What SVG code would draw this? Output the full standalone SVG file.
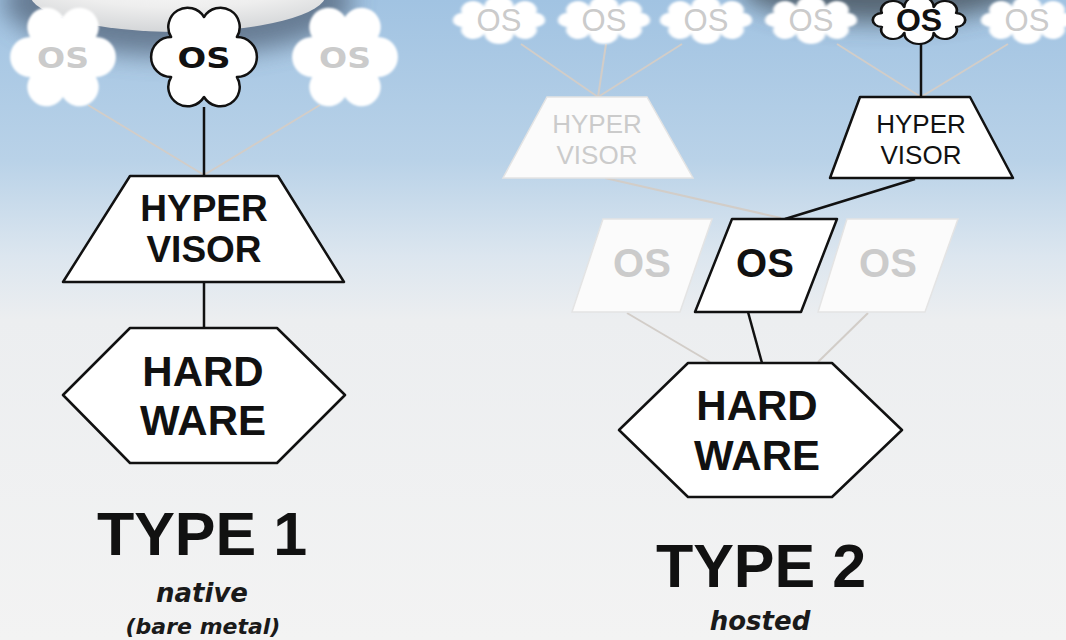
<svg xmlns="http://www.w3.org/2000/svg" width="1066" height="640" viewBox="0 0 1066 640">
<defs>
  <linearGradient id="bg" x1="0" y1="0" x2="0" y2="1">
    <stop offset="0" stop-color="#a1c3e2"/>
    <stop offset="0.25" stop-color="#b9d2e8"/>
    <stop offset="0.4" stop-color="#dce6ef"/>
    <stop offset="0.5" stop-color="#eceef0"/>
    <stop offset="1" stop-color="#f3f3f3"/>
  </linearGradient>
  <radialGradient id="sphere" cx="0.5" cy="0.2" r="0.8">
    <stop offset="0" stop-color="#ffffff"/>
    <stop offset="0.6" stop-color="#eeeeee"/>
    <stop offset="1" stop-color="#d4d6d8"/>
  </radialGradient>
  <filter id="shadow" x="-50%" y="-50%" width="200%" height="200%">
    <feGaussianBlur stdDeviation="12"/>
  </filter>
  <filter id="soft" x="-20%" y="-20%" width="140%" height="140%">
    <feGaussianBlur stdDeviation="1.2"/>
  </filter>
  <path id="cloud6" d="M -32.9,-20 A 1 1 0 0 1 0,-40 A 1 1 0 0 1 32.9,-20 A 1 1 0 0 1 32.9,20 A 1 1 0 0 1 0,40 A 1 1 0 0 1 -32.9,20 A 1 1 0 0 1 -32.9,-20 Z"/>
  <path id="cloud8" d="M -32.9,-8 A 1 1 0 0 1 -13,-15 A 1 1 0 0 1 13,-15 A 1 1 0 0 1 32.9,-8 A 1 1 0 0 1 32.9,8 A 1 1 0 0 1 13,15 A 1 1 0 0 1 -13,15 A 1 1 0 0 1 -32.9,8 A 1 1 0 0 1 -32.9,-8 Z"/>
  <style>
    .lt { fill:#ffffff; stroke:none; }
    .dk { fill:#ffffff; stroke:#111111; stroke-width:2.5; stroke-linejoin:round; }
    .ltshape { fill:#fbfbfb; stroke:#e4e4e4; stroke-width:1.5; }
    .ln { stroke:#d2cdc8; stroke-width:2; fill:none; }
    .bk { stroke:#111111; stroke-width:2.5; fill:none; }
    .t { font-family:"Liberation Sans", Arial, sans-serif; font-weight:bold; text-anchor:middle; fill:#111111; }
    .tr { font-family:"Liberation Sans", Arial, sans-serif; font-weight:normal; text-anchor:middle; fill:#111111; }
    .g { fill:#cbcbcb; }
    .os1 { font-family:"DejaVu Sans", Verdana, sans-serif; font-weight:bold; font-size:29px; text-anchor:middle; }
    .it { font-family:"DejaVu Sans", Verdana, sans-serif; font-weight:bold; font-style:italic; text-anchor:middle; fill:#1a1a1a; }
  </style>
</defs>

<rect x="0" y="0" width="1066" height="640" fill="url(#bg)"/>

<!-- decorative sphere and shadows at top -->
<ellipse cx="178" cy="2" rx="175" ry="54" fill="#4e5d72" opacity="0.7" filter="url(#shadow)"/>
<ellipse cx="880" cy="-12" rx="140" ry="34" fill="#3d4650" opacity="0.75" filter="url(#shadow)"/>
<ellipse cx="178" cy="-6" rx="148" ry="38" fill="url(#sphere)"/>

<!-- connectors -->
<g id="connectors">
  <line class="ln" x1="88" y1="105" x2="204" y2="175"/>
  <line class="ln" x1="320" y1="105" x2="204" y2="175"/>
  <line class="bk" x1="204" y1="107" x2="204" y2="176"/>
  <line class="bk" x1="204" y1="282" x2="204" y2="328"/>

  <line class="ln" x1="521" y1="44" x2="598" y2="97"/>
  <line class="ln" x1="606" y1="44" x2="598" y2="97"/>
  <line class="ln" x1="682" y1="44" x2="598" y2="97"/>
  <line class="ln" x1="837" y1="44" x2="921" y2="97"/>
  <line class="ln" x1="1008" y1="44" x2="921" y2="97"/>
  <line class="bk" x1="921" y1="44" x2="921" y2="97"/>

  <line class="ln" x1="605" y1="178" x2="781" y2="218"/>
  <line class="bk" x1="915" y1="179" x2="785" y2="219"/>

  <line class="ln" x1="627" y1="313" x2="710" y2="362"/>
  <line class="ln" x1="868" y1="313" x2="818" y2="362"/>
  <line class="bk" x1="748" y1="312" x2="762" y2="363"/>
</g>

<!-- Type 1 -->
<g id="t1-os-left">
  <use href="#cloud6" x="63" y="57" class="lt" filter="url(#soft)"/>
  <text class="os1 g" x="63" y="68" textLength="52" lengthAdjust="spacingAndGlyphs">OS</text>
</g>
<g id="t1-os-mid">
  <use href="#cloud6" x="204" y="57" class="dk"/>
  <text class="os1" x="204" y="68" textLength="53" lengthAdjust="spacingAndGlyphs" fill="#111111">OS</text>
</g>
<g id="t1-os-right">
  <use href="#cloud6" x="345" y="57" class="lt" filter="url(#soft)"/>
  <text class="os1 g" x="345" y="68" textLength="52" lengthAdjust="spacingAndGlyphs">OS</text>
</g>
<g id="t1-hypervisor">
  <polygon class="dk" points="130,176 278,176 344,282 63,282"/>
  <text class="t" x="204" y="221" font-size="37">HYPER</text>
  <text class="t" x="204" y="262" font-size="37">VISOR</text>
</g>
<g id="t1-hardware">
  <polygon class="dk" points="130,328 277,328 345,395 277,463 130,463 63,395"/>
  <text class="t" x="203" y="386" font-size="42">HARD</text>
  <text class="t" x="203" y="435" font-size="42">WARE</text>
</g>
<g id="t1-label">
  <text class="t" x="202" y="555" font-size="61">TYPE 1</text>
  <text class="it" x="202" y="602" font-size="26">native</text>
  <text class="it" x="203" y="634" font-size="22">(bare metal)</text>
</g>

<!-- Type 2 top clouds -->
<g id="t2-os-1">
  <use href="#cloud8" transform="translate(499,20) scale(1.13,0.86)" class="lt" filter="url(#soft)"/>
  <text class="tr g" x="499" y="31" font-size="31">OS</text>
</g>
<g id="t2-os-2">
  <use href="#cloud8" transform="translate(604,20) scale(1.13,0.86)" class="lt" filter="url(#soft)"/>
  <text class="tr g" x="604" y="31" font-size="31">OS</text>
</g>
<g id="t2-os-3">
  <use href="#cloud8" transform="translate(706,20) scale(1.13,0.86)" class="lt" filter="url(#soft)"/>
  <text class="tr g" x="706" y="31" font-size="31">OS</text>
</g>
<g id="t2-os-4">
  <use href="#cloud8" transform="translate(811,20) scale(1.13,0.86)" class="lt" filter="url(#soft)"/>
  <text class="tr g" x="811" y="31" font-size="31">OS</text>
</g>
<g id="t2-os-5">
  <use href="#cloud8" transform="translate(919,20) scale(1.13,0.86)" class="dk" vector-effect="non-scaling-stroke" style="stroke-width:2.4"/>
  <text class="t" x="919" y="31" font-size="32">OS</text>
</g>
<g id="t2-os-6">
  <use href="#cloud8" transform="translate(1027,20) scale(1.13,0.86)" class="lt" filter="url(#soft)"/>
  <text class="tr g" x="1027" y="31" font-size="31">OS</text>
</g>

<!-- Type 2 hypervisors -->
<g id="t2-hypervisor-left">
  <polygon class="ltshape" points="547,97 647,97 693,178 503,178"/>
  <text class="tr g" x="597" y="133" font-size="26">HYPER</text>
  <text class="tr g" x="597" y="164" font-size="26">VISOR</text>
</g>
<g id="t2-hypervisor-right">
  <polygon class="dk" points="860,97 970,97 1013,178 830,178"/>
  <text class="tr" x="921" y="133" font-size="26">HYPER</text>
  <text class="tr" x="921" y="164" font-size="26">VISOR</text>
</g>

<!-- Type 2 host OSes -->
<g id="t2-host-left">
  <polygon class="ltshape" points="603,219 712,219 680,312 572,312"/>
  <text class="t g" x="642" y="277" font-size="40">OS</text>
</g>
<g id="t2-host-mid">
  <polygon class="dk" points="732,219 837,219 801,312 695,312"/>
  <text class="t" x="765" y="277" font-size="40">OS</text>
</g>
<g id="t2-host-right">
  <polygon class="ltshape" points="847,219 958,219 925,312 818,312"/>
  <text class="t g" x="888" y="277" font-size="40">OS</text>
</g>

<g id="t2-hardware">
  <polygon class="dk" points="688,363 832,363 902,430 832,497 688,497 619,430"/>
  <text class="t" x="757" y="420" font-size="42">HARD</text>
  <text class="t" x="757" y="470" font-size="42">WARE</text>
</g>
<g id="t2-label">
  <text class="t" x="761" y="587" font-size="61">TYPE 2</text>
  <text class="it" x="760" y="630" font-size="26">hosted</text>
</g>
</svg>
